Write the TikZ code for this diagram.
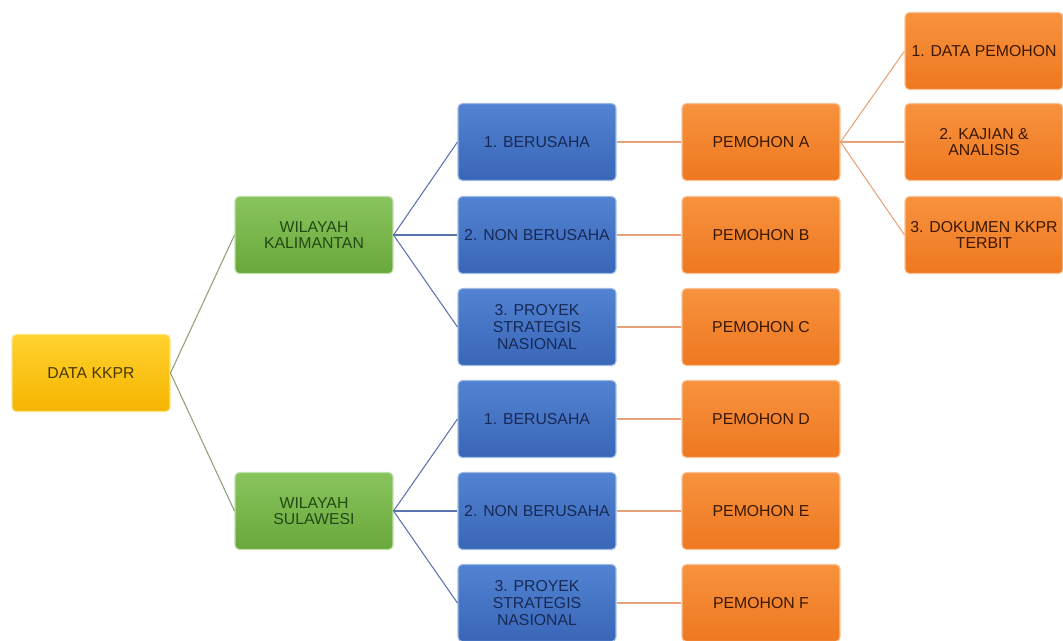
\documentclass[tikz,border=0pt]{standalone}
\usepackage{fontspec}
\setmainfont{Liberation Sans}
\usepackage{xcolor}
\usepackage{tikz}
\usetikzlibrary{positioning}
\definecolor{yellowtop}{HTML}{FFD22E}
\definecolor{yellowbot}{HTML}{F5B400}
\definecolor{yellowtxt}{HTML}{4A3A00}
\definecolor{greentop}{HTML}{88C45C}
\definecolor{greenbot}{HTML}{69A83C}
\definecolor{greentxt}{HTML}{224A14}
\definecolor{bluetop}{HTML}{5283D2}
\definecolor{bluebot}{HTML}{3A66B8}
\definecolor{bluetxt}{HTML}{172A55}
\definecolor{orangetop}{HTML}{F8923E}
\definecolor{orangebot}{HTML}{EE7820}
\definecolor{orangetxt}{HTML}{3C1800}
\definecolor{linegreen}{HTML}{8CA078}
\definecolor{lineblue}{HTML}{5A72AE}
\definecolor{lineorange}{HTML}{E6A278}

\tikzset{
  box/.style={rounded corners=2.5pt, minimum width=3.16cm, minimum height=1.54cm,
    inner sep=0pt, align=center, line width=0.6pt,
    font=\fontsize{9}{9.5}\selectfont},
  yellowbox/.style={box, top color=yellowtop, bottom color=yellowbot, draw=yellowtop!60!white, text=yellowtxt},
  greenbox/.style={box, top color=greentop, bottom color=greenbot, draw=greentop!55!white, text=greentxt},
  bluebox/.style={box, top color=bluetop, bottom color=bluebot, draw=bluetop!55!white, text=bluetxt},
  orangebox/.style={box, top color=orangetop, bottom color=orangebot, draw=orangetop!55!white, text=orangetxt},
  link/.style={line width=0.6pt}
}

\begin{document}
\begin{tikzpicture}[x=0.02cm, y=-0.02cm]
  \useasboundingbox (0,0) rectangle (1063,640);

  % root
  \node[yellowbox] (kkpr) at (91,373) {DATA KKPR};

  % wilayah
  \node[greenbox] (kalimantan) at (314,235) {WILAYAH\\KALIMANTAN};
  \node[greenbox] (sulawesi)   at (314,511) {WILAYAH\\SULAWESI};

  % jenis kegiatan
  \node[bluebox] (berusahaK)    at (537,142) {1. BERUSAHA};
  \node[bluebox] (nonberusahaK) at (537,235) {2. NON BERUSAHA};
  \node[bluebox] (psnK)         at (537,327) {3. PROYEK\\STRATEGIS\\NASIONAL};
  \node[bluebox] (berusahaS)    at (537,419) {1. BERUSAHA};
  \node[bluebox] (nonberusahaS) at (537,511) {2. NON BERUSAHA};
  \node[bluebox] (psnS)         at (537,603) {3. PROYEK\\STRATEGIS\\NASIONAL};

  % pemohon
  \node[orangebox] (pemohonA) at (761,142) {PEMOHON A};
  \node[orangebox] (pemohonB) at (761,235) {PEMOHON B};
  \node[orangebox] (pemohonC) at (761,327) {PEMOHON C};
  \node[orangebox] (pemohonD) at (761,419) {PEMOHON D};
  \node[orangebox] (pemohonE) at (761,511) {PEMOHON E};
  \node[orangebox] (pemohonF) at (761,603) {PEMOHON F};

  % tahapan
  \node[orangebox] (datapemohon) at (984,51)  {1. DATA PEMOHON};
  \node[orangebox] (kajian)      at (984,142) {2. KAJIAN \&\\ANALISIS};
  \node[orangebox] (dokumen)     at (984,235) {3. DOKUMEN KKPR\\TERBIT};

  % connectors
  \draw[link, linegreen] (kkpr.east) -- (kalimantan.west);
  \draw[link, linegreen] (kkpr.east) -- (sulawesi.west);

  \draw[link, lineblue] (kalimantan.east) -- (berusahaK.west);
  \draw[link, lineblue] (kalimantan.east) -- (nonberusahaK.west);
  \draw[link, lineblue] (kalimantan.east) -- (psnK.west);
  \draw[link, lineblue] (sulawesi.east) -- (berusahaS.west);
  \draw[link, lineblue] (sulawesi.east) -- (nonberusahaS.west);
  \draw[link, lineblue] (sulawesi.east) -- (psnS.west);

  \draw[link, lineorange] (berusahaK.east) -- (pemohonA.west);
  \draw[link, lineorange] (nonberusahaK.east) -- (pemohonB.west);
  \draw[link, lineorange] (psnK.east) -- (pemohonC.west);
  \draw[link, lineorange] (berusahaS.east) -- (pemohonD.west);
  \draw[link, lineorange] (nonberusahaS.east) -- (pemohonE.west);
  \draw[link, lineorange] (psnS.east) -- (pemohonF.west);

  \draw[link, lineorange] (pemohonA.east) -- (datapemohon.west);
  \draw[link, lineorange] (pemohonA.east) -- (kajian.west);
  \draw[link, lineorange] (pemohonA.east) -- (dokumen.west);
\end{tikzpicture}
\end{document}
